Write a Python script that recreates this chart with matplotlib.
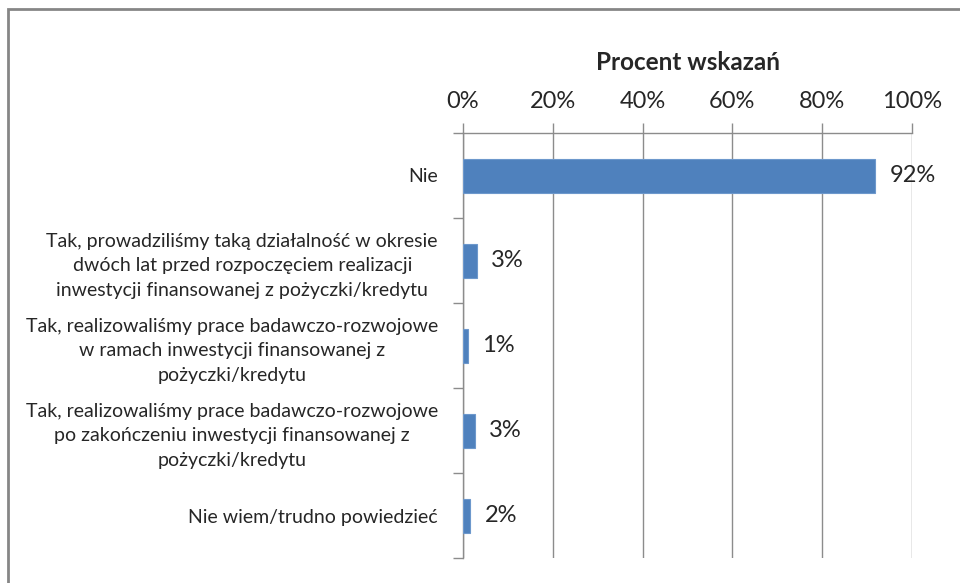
import numpy as np
import matplotlib.pyplot as plt
from matplotlib.patches import Rectangle
from matplotlib.ticker import FixedLocator

categories = [
    "Nie",
    "Tak, prowadziliśmy taką działalność w okresie\ndwóch lat przed rozpoczęciem realizacji\ninwestycji finansowanej z pożyczki/kredytu",
    "Tak, realizowaliśmy prace badawczo-rozwojowe\nw ramach inwestycji finansowanej z\npożyczki/kredytu",
    "Tak, realizowaliśmy prace badawczo-rozwojowe\npo zakończeniu inwestycji finansowanej z\npożyczki/kredytu",
    "Nie wiem/trudno powiedzieć",
]
values = [91.8, 3.1, 1.1, 2.6, 1.6]
xticks = [0, 20, 40, 60, 80, 100]
title = "Procent wskazań"

plt.rcParams['font.family'] = ['Lato', 'DejaVu Sans']
txt = '#262626'
grid_c = '#8c8c8c'

fig = plt.figure(figsize=(9.6, 5.83), dpi=100)
ax = fig.add_axes([463/960, 1-558/583, 449/960, 425/583])

pos = np.arange(len(categories))
ax.barh(pos, values, height=0.4, color='#4F81BD', edgecolor='#6d98cc', linewidth=0.8, zorder=3)
for p, v in zip(pos, values):
    ax.text(v + 3.2, p, f"{v:.0f}%", va='center', ha='left', fontsize=17, color=txt, zorder=4)

ax.set_xlim(0, 100)
ax.set_ylim(len(categories) - 0.5, -0.5)
ax.xaxis.set_ticks_position('top')
ax.xaxis.set_label_position('top')
ax.set_xticks(xticks)
ax.set_xticklabels([f"{t}%" for t in xticks], fontsize=17, color=txt)
ax.tick_params(axis='x', direction='out', length=7, width=1, color=grid_c, pad=8)
ax.set_xlabel(title, fontsize=17.5, fontweight='bold', color=txt, labelpad=15)
ax.grid(axis='x', color=grid_c, linewidth=1, zorder=0)

ax.set_yticks(pos)
ax.set_yticklabels(categories, fontsize=14, color=txt, linespacing=1.55)
for lbl in ax.get_yticklabels():
    lbl.set_multialignment('center')
ax.tick_params(axis='y', which='major', length=0, pad=18)
ax.yaxis.set_minor_locator(FixedLocator(np.arange(-0.5, len(categories), 1)))
ax.tick_params(axis='y', which='minor', length=7, width=1, color=grid_c)

for s in ['right', 'bottom']:
    ax.spines[s].set_visible(False)
for s in ['left', 'top']:
    ax.spines[s].set_color(grid_c)
    ax.spines[s].set_linewidth(1)

fig.patches.append(Rectangle((8/960, -0.1), 1.2, 1 - 9/583 + 0.1, transform=fig.transFigure,
                             fill=False, edgecolor='#868686', linewidth=2))

fig.savefig("out.png", dpi=100)
